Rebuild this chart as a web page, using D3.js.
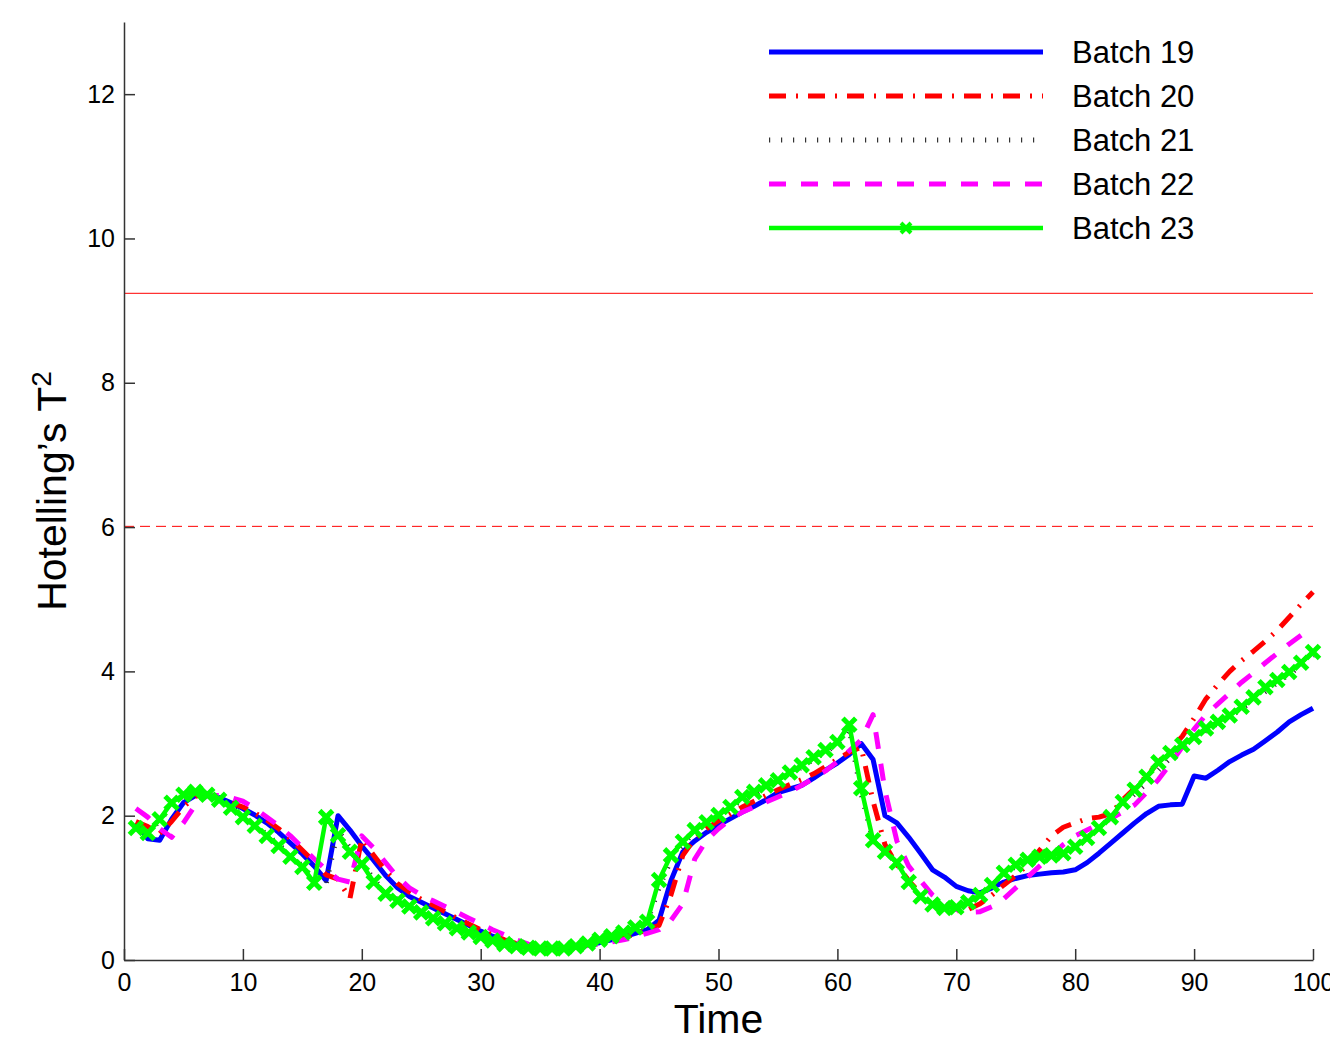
<!DOCTYPE html>
<html>
<head>
<meta charset="utf-8">
<script src="https://cdn.jsdelivr.net/npm/d3@7"></script>
<style>
  body { margin: 0; background: #fff; }
  svg { display: block; font-family: "Liberation Sans", Arial, Helvetica, sans-serif; }
</style>
</head>
<body>
<script>
const w = 1330;
const h = 1037;
const margin = { top: 22, right: 17, bottom: 77, left: 124 };

// time index 1..100
const time = d3.range(1, 101);

const batch19 = [1.90,1.68,1.66,1.95,2.18,2.28,2.30,2.25,2.18,2.10,
  2.01,1.90,1.77,1.62,1.47,1.30,1.10,2.00,1.80,1.58,
  1.38,1.17,1.00,0.88,0.80,0.72,0.64,0.56,0.48,0.40,
  0.33,0.27,0.22,0.18,0.16,0.15,0.16,0.18,0.21,0.24,
  0.28,0.32,0.37,0.42,0.55,1.10,1.50,1.65,1.77,1.87,
  1.96,2.05,2.13,2.22,2.32,2.37,2.42,2.52,2.63,2.73,
  2.85,3.00,2.78,2.00,1.90,1.70,1.48,1.25,1.15,1.02,
  0.96,0.93,1.00,1.08,1.13,1.17,1.19,1.21,1.22,1.25,
  1.35,1.48,1.62,1.76,1.90,2.03,2.13,2.15,2.16,2.55,
  2.52,2.63,2.75,2.84,2.92,3.04,3.16,3.30,3.40,3.49];

const batch20 = [1.92,1.85,1.75,1.92,2.12,2.27,2.30,2.25,2.18,2.12,
  2.04,1.94,1.82,1.68,1.52,1.36,1.18,1.12,0.85,1.68,
  1.45,1.24,1.06,0.94,0.84,0.76,0.67,0.58,0.50,0.42,
  0.35,0.28,0.23,0.19,0.17,0.16,0.17,0.19,0.21,0.24,
  0.27,0.31,0.36,0.42,0.48,0.90,1.45,1.68,1.82,1.93,
  2.02,2.12,2.20,2.28,2.36,2.43,2.50,2.58,2.68,2.78,
  2.88,2.95,2.20,1.60,1.32,1.10,0.92,0.80,0.72,0.68,
  0.70,0.78,0.90,1.04,1.17,1.32,1.52,1.72,1.84,1.90,
  1.96,1.98,2.03,2.22,2.38,2.55,2.74,2.92,3.10,3.35,
  3.62,3.82,4.00,4.15,4.28,4.42,4.57,4.75,4.93,5.10];

const batch21 = [1.85,1.78,1.92,2.15,2.28,2.32,2.29,2.22,2.12,2.00,
  1.88,1.74,1.60,1.46,1.30,1.12,1.05,1.80,1.55,1.36,
  1.12,0.94,0.84,0.75,0.67,0.59,0.52,0.45,0.39,0.33,
  0.27,0.22,0.19,0.17,0.16,0.16,0.16,0.19,0.23,0.27,
  0.32,0.37,0.44,0.52,1.00,1.38,1.60,1.77,1.89,1.99,
  2.10,2.22,2.30,2.39,2.47,2.57,2.67,2.78,2.88,2.99,
  3.20,2.30,1.65,1.50,1.34,1.08,0.88,0.77,0.72,0.73,
  0.80,0.90,1.03,1.18,1.30,1.38,1.43,1.46,1.50,1.58,
  1.70,1.83,1.97,2.15,2.30,2.45,2.63,2.80,2.94,3.06,
  3.18,3.28,3.37,3.48,3.60,3.72,3.84,3.96,4.08,4.22];

const batch22 = [2.10,1.98,1.82,1.70,1.90,2.15,2.28,2.28,2.25,2.20,
  2.10,1.98,1.86,1.72,1.56,1.40,1.25,1.12,1.08,1.72,
  1.55,1.35,1.15,1.00,0.90,0.82,0.74,0.66,0.58,0.50,
  0.42,0.35,0.28,0.22,0.19,0.17,0.17,0.18,0.20,0.22,
  0.25,0.28,0.32,0.37,0.42,0.55,0.78,1.40,1.66,1.82,
  1.95,2.05,2.12,2.19,2.26,2.33,2.42,2.52,2.62,2.75,
  2.90,3.05,3.40,2.35,1.65,1.30,1.10,0.90,0.78,0.70,
  0.66,0.67,0.74,0.85,1.00,1.15,1.30,1.45,1.60,1.72,
  1.80,1.88,1.96,2.05,2.15,2.32,2.50,2.72,2.95,3.20,
  3.40,3.55,3.70,3.85,3.98,4.12,4.25,4.38,4.50,4.62];

const batch23 = [1.83,1.76,1.95,2.18,2.29,2.33,2.29,2.22,2.11,1.98,
  1.86,1.72,1.58,1.43,1.29,1.07,1.98,1.73,1.50,1.33,
  1.08,0.92,0.82,0.74,0.66,0.58,0.51,0.44,0.38,0.32,
  0.27,0.22,0.19,0.17,0.16,0.16,0.16,0.19,0.23,0.28,
  0.33,0.38,0.45,0.53,1.11,1.45,1.64,1.80,1.91,2.01,
  2.12,2.26,2.33,2.42,2.49,2.60,2.70,2.81,2.91,3.02,
  3.26,2.38,1.66,1.50,1.35,1.08,0.88,0.77,0.72,0.73,
  0.80,0.90,1.04,1.21,1.32,1.39,1.43,1.45,1.48,1.57,
  1.69,1.83,1.98,2.19,2.36,2.54,2.74,2.87,2.98,3.09,
  3.21,3.30,3.39,3.51,3.64,3.78,3.88,3.99,4.12,4.27];

// control limits
const limit99 = 9.24;
const limit95 = 6.01;

const xTicks = [0,10,20,30,40,50,60,70,80,90,100];
const yTicks = [0,2,4,6,8,10,12];

const series = [
  { name: "Batch 19", values: batch19, color: "#0000ff", width: 5, dash: null },
  { name: "Batch 20", values: batch20, color: "#ff0000", width: 5, dash: "17,10,2,10" },
  { name: "Batch 21", values: batch21, color: "#333333", width: 5, dash: "1.2,10.8" },
  { name: "Batch 22", values: batch22, color: "#ff00ff", width: 5, dash: "17,15" },
  { name: "Batch 23", values: batch23, color: "#00ff00", width: 4.5, dash: null, marker: true }
];

const svg = d3.select("body").append("svg").attr("width", w).attr("height", h);

const xScale = d3.scaleLinear().domain([0, 100]).range([margin.left, w - margin.right]);
const yScale = d3.scaleLinear().domain([0, 13]).range([h - margin.bottom, margin.top]);

// limit lines
svg.append("line")
  .attr("x1", xScale(0)).attr("x2", xScale(100))
  .attr("y1", yScale(limit99)).attr("y2", yScale(limit99))
  .attr("stroke", "#ff0000").attr("stroke-width", 1);

svg.append("line")
  .attr("x1", xScale(0)).attr("x2", xScale(100))
  .attr("y1", yScale(limit95)).attr("y2", yScale(limit95))
  .attr("stroke", "#ff0000").attr("stroke-width", 1)
  .attr("stroke-dasharray", "10,6");

// series lines
const line = d3.line()
  .x((d, i) => xScale(time[i]))
  .y(d => yScale(d));

series.forEach(s => {
  svg.append("path")
    .datum(s.values)
    .attr("fill", "none")
    .attr("stroke", s.color)
    .attr("stroke-width", s.width)
    .attr("stroke-linejoin", "round")
    .attr("stroke-dasharray", s.dash)
    .attr("d", line);
  if (s.marker) {
    svg.append("g").selectAll("path")
      .data(s.values)
      .enter()
      .append("path")
      .attr("transform", (d, i) => "translate(" + xScale(time[i]) + "," + yScale(d) + ")")
      .attr("d", "M-6.5,-6.5L6.5,6.5M-6.5,6.5L6.5,-6.5")
      .attr("stroke", s.color)
      .attr("stroke-width", 5)
      .attr("fill", "none");
  }
});

// axes, ticks pointing inward
const xAxis = d3.axisBottom(xScale).tickValues(xTicks).tickSizeInner(-11).tickSizeOuter(0).tickPadding(13);
const yAxis = d3.axisLeft(yScale).tickValues(yTicks).tickSizeInner(-11).tickSizeOuter(0).tickPadding(9);

const gx = svg.append("g")
  .attr("transform", "translate(0," + (h - margin.bottom) + ")")
  .call(xAxis);

const gy = svg.append("g")
  .attr("transform", "translate(" + margin.left + ",0)")
  .call(yAxis);

[gx, gy].forEach(g => {
  g.select(".domain").attr("stroke", "#333").attr("stroke-width", 1.5);
  g.selectAll(".tick line").attr("stroke", "#333").attr("stroke-width", 1.5);
  g.selectAll(".tick text")
    .attr("fill", "#000")
    .style("font-size", "25px")
    .style("font-family", "'Liberation Sans', Arial, sans-serif");
});

// axis labels
svg.append("text")
  .attr("x", (margin.left + w - margin.right) / 2)
  .attr("y", 1033)
  .attr("text-anchor", "middle")
  .style("font-size", "41px")
  .text("Time");

const yLab = svg.append("text")
  .attr("transform", "translate(66," + ((margin.top + h - margin.bottom) / 2) + ") rotate(-90)")
  .attr("text-anchor", "middle")
  .style("font-size", "41px");
yLab.append("tspan").text("Hotelling\u2019s T");
yLab.append("tspan").attr("dy", "-0.55em").style("font-size", "28px").text("2");

// legend
const legend = svg.append("g");
const legX1 = 769, legX2 = 1043, legY0 = 52, legStep = 44;

series.forEach((s, i) => {
  const y = legY0 + i * legStep;
  legend.append("line")
    .attr("x1", legX1).attr("x2", legX2)
    .attr("y1", y).attr("y2", y)
    .attr("stroke", s.color)
    .attr("stroke-width", s.width)
    .attr("stroke-dasharray", s.dash);
  if (s.marker) {
    legend.append("path")
      .attr("transform", "translate(" + (legX1 + legX2) / 2 + "," + y + ")")
      .attr("d", "M-5,-5L5,5M-5,5L5,-5")
      .attr("stroke", s.color)
      .attr("stroke-width", 4);
  }
  legend.append("text")
    .attr("x", 1072)
    .attr("y", y + 11)
    .style("font-size", "31px")
    .text(s.name);
});
</script>
</body>
</html>
